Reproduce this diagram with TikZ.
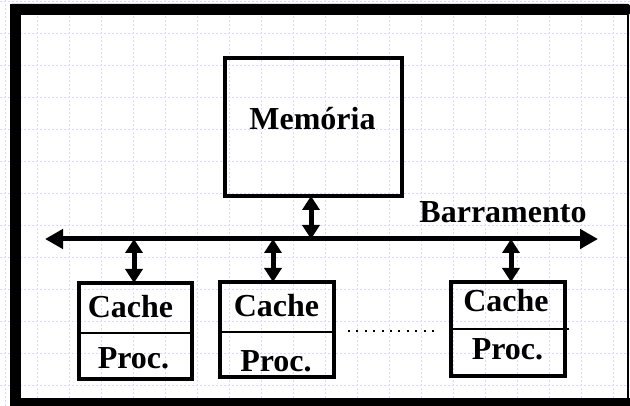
\documentclass[tikz,border=0pt]{standalone}
\usepackage{fontspec}
\setmainfont{Liberation Serif}
\usetikzlibrary{arrows.meta}
\definecolor{gridc}{RGB}{214,218,248}
\tikzset{
  lbl/.style={font=\bfseries\fontsize{32}{32}\selectfont, inner sep=0pt, anchor=base},
  boxn/.style={draw, line width=4.5pt, inner sep=0pt, outer sep=0pt},
  divider/.style={line width=2.5pt},
  bus/.style={line width=5pt, {Triangle[width=19pt,length=18pt]}-{Triangle[width=19pt,length=18pt]}},
  link/.style={line width=5pt, {Triangle[width=17pt,length=14pt]}-{Triangle[width=17pt,length=14pt]}},
  gridline/.style={gridc, line width=0.8pt, dash pattern=on 2pt off 2pt},
}
\begin{document}
\begin{tikzpicture}[x=1pt,y=-1pt]
\useasboundingbox (0,0) rectangle (630,406);
% background grid
\foreach \gx in {5,37,...,630} \draw[gridline] (\gx,0) -- (\gx,406);
\foreach \gy in {1,33,...,406} \draw[gridline] (0,\gy) -- (630,\gy);
% frame
\fill[rounded corners=2pt] (10,4) rectangle (630,15);
\fill (10,4) rectangle (21,406);
\fill (10,398) rectangle (630,406);
\fill (627,15) rectangle (629,398);
% memory
\node[boxn, minimum width=177pt, minimum height=138pt] (mem) at (313.5,127) {};
\node[lbl] (memt) at (312.5,130) {Memória};
% bus
\coordinate (busL) at (45,239);
\coordinate (busR) at (598,239);
\draw[bus] (busL) -- (busR);
\node[lbl] (bust) at (503,223) {Barramento};
% cache/proc boxes
\node[boxn, minimum width=113pt, minimum height=96pt] (c1) at (135.5,331) {};
\node[boxn, minimum width=114pt, minimum height=95pt] (c2) at (277,329.5) {};
\node[boxn, minimum width=114pt, minimum height=94pt] (c3) at (508,329) {};
\coordinate (d1) at (0,333);
\coordinate (d2) at (0,332);
\coordinate (d3) at (0,329);
\coordinate (d3e) at (569,329);
\draw[divider] (c1.west |- d1) -- (c1.east |- d1);
\draw[divider] (c2.west |- d2) -- (c2.east |- d2);
\draw[divider] (c3.west |- d3) -- (d3e);
\node[lbl] (c1c) at (130.5,318) {Cache};
\node[lbl] (c1p) at (133.5,369) {Proc.};
\node[lbl] (c2c) at (276.5,317) {Cache};
\node[lbl] (c2p) at (276,372) {Proc.};
\node[lbl] (c3c) at (506,312) {Cache};
\node[lbl] (c3p) at (507.5,360) {Proc.};
% links
\draw[link] ([xshift=-2.5pt]mem.south) -- ([xshift=-2.5pt]mem.south |- busL);
\draw[link] ([xshift=-1.5pt]c1.north) -- ([xshift=-1.5pt]c1.north |- busL);
\draw[link] ([xshift=-4pt]c2.north) -- ([xshift=-4pt]c2.north |- busL);
\draw[link] ([xshift=3pt]c3.north) -- ([xshift=3pt]c3.north |- busL);
% dots between boxes
\coordinate (dotA) at (348,331);
\coordinate (dotB) at (434,331);
\draw[line width=2pt, dash pattern=on 2pt off 6.4pt] (dotA) -- (dotB);
\end{tikzpicture}
\end{document}
